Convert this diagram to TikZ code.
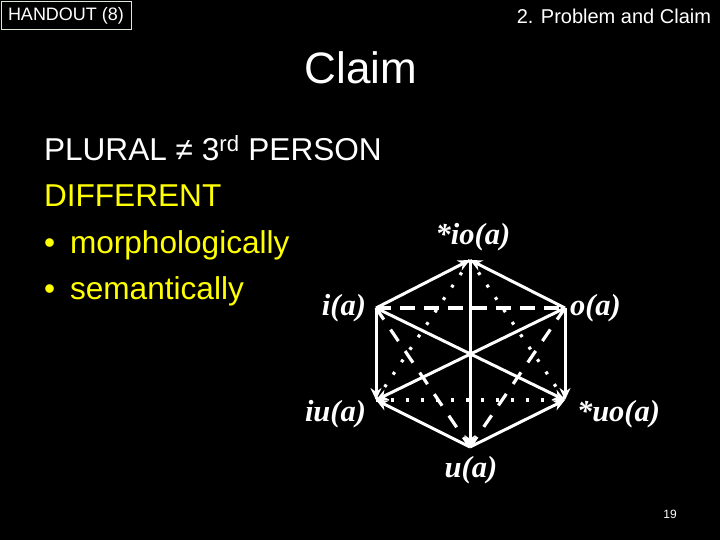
\documentclass[tikz,border=0pt]{standalone}
\usepackage{fontspec}
\setmainfont{Liberation Sans}
\newfontfamily\lblfont{Liberation Serif}
\usetikzlibrary{arrows.meta}
\definecolor{slideyellow}{RGB}{255,255,0}
\definecolor{boxedge}{RGB}{220,235,215}
\begin{document}
\begin{tikzpicture}[x=1pt,y=-1pt,
  every node/.style={inner sep=0pt,outer sep=0pt},
  lbl/.style={text=white,font=\lblfont\bfseries\itshape\fontsize{30.5}{32}\selectfont},
  body/.style={anchor=base west,font=\fontsize{31.6}{34}\selectfont},
  edge/.style={draw=white,line width=3pt},
  arr/.style={edge,-{Stealth[length=12pt,width=11pt]}},
  dsh/.style={draw=white,line width=3.2pt,dash pattern=on 15pt off 9pt},
  dts/.style={draw=white,line width=3.2pt,dash pattern=on 3pt off 12pt},
  ldsh/.style={draw=white,line width=3.2pt,dash pattern=on 14pt off 12pt}]
\fill[black] (0,0) rectangle (720,540);
\useasboundingbox (0,0) rectangle (720,540);
% header
\node[draw=boxedge,line width=1pt,minimum width=130pt,minimum height=28pt,anchor=north west,text=white,font=\fontsize{18}{20}\selectfont] (handout) at (1,2) {HANDOUT (8)};
\node[anchor=east,text=white,font=\fontsize{20}{22}\selectfont] (sect) at (711,16) {2. Problem and Claim};
\node[text=white,font=\fontsize{44}{48}\selectfont] (title) at (361,68) {Claim};
% body text
\node[body,text=white] (l1) at (44,161) {PLURAL ≠ 3\textsuperscript{rd} PERSON};
\node[body,text=slideyellow] (l2) at (44,207) {DIFFERENT};
\node[body,text=slideyellow] (b1) at (44,253) {•};
\node[body,text=slideyellow] (l3) at (70,253) {morphologically};
\node[body,text=slideyellow] (b2) at (44,299) {•};
\node[body,text=slideyellow] (l4) at (70,299) {semantically};
\node[text=white,font=\fontsize{12}{14}\selectfont] (pg) at (670,514) {19};
% hexagon vertices
\coordinate (T) at (470,260);
\coordinate (L) at (376,308);
\coordinate (R) at (565,308);
\coordinate (LL) at (376,400);
\coordinate (RR) at (565,400);
\coordinate (B) at (470,447);
% labels
\node[lbl] (tl) at (473,237) {*io(a)};
\node[lbl,anchor=east] (ll) at (366,308) {i(a)};
\node[lbl,anchor=west] (rl) at (570,308) {o(a)};
\node[lbl,anchor=east] (lll) at (366,414) {iu(a)};
\node[lbl,anchor=west] (rrl) at (577,414) {*uo(a)};
\node[lbl] (bl) at (471,470) {u(a)};
% dashed / dotted
\draw[dsh] (L) -- (R);
\draw[dts] (LL) -- (RR);
\draw[dts] (T) -- (LL);
\draw[dts] (T) -- (RR);
\draw[ldsh] (L) -- (B);
\draw[ldsh] (R) -- (B);
% solid arrows
\draw[arr] (L) -- (T);
\draw[arr] (R) -- (T);
\draw[arr] (T) -- (B);
\draw[arr] (L) -- (LL);
\draw[arr] (R) -- (RR);
\draw[arr] (L) -- (RR);
\draw[arr] (R) -- (LL);
\draw[arr] (B) -- (LL);
\draw[arr] (B) -- (RR);
\end{tikzpicture}
\end{document}
